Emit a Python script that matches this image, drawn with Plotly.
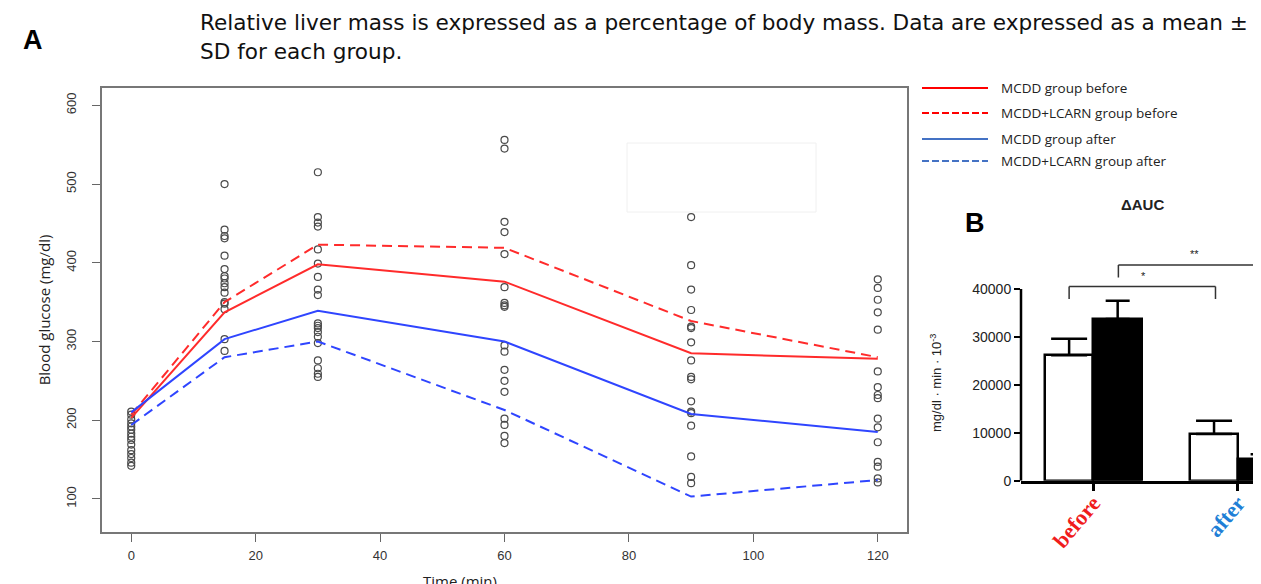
import plotly.graph_objects as go

# ---------------- data: panel A ----------------
time_min = [0, 15, 30, 60, 90, 120]
mcdd_before = [203, 337, 398, 376, 285, 278]
lcarn_before = [207, 350, 423, 419, 326, 280]
mcdd_after = [210, 303, 339, 300, 208, 185]
lcarn_after = [194, 280, 300, 213, 103, 124]

obs_t0 = [211, 207, 201, 196, 192, 188, 183, 179, 175, 169, 162, 157, 152, 146, 142]
obs_t15 = [500, 442, 434, 431, 409, 392, 383, 380, 374, 369, 362, 350, 348, 341, 303, 288]
obs_t30 = [515, 458, 451, 446, 417, 399, 382, 366, 359, 323, 320, 317, 312, 306, 298, 276, 266, 259, 255]
obs_t60 = [556, 545, 452, 439, 411, 369, 349, 346, 344, 295, 287, 264, 250, 236, 202, 194, 180, 171]
obs_t90 = [458, 397, 366, 340, 319, 317, 299, 276, 255, 252, 224, 211, 209, 193, 154, 128, 120]
obs_t120 = [379, 368, 353, 337, 315, 262, 242, 232, 228, 202, 191, 172, 147, 141, 126, 121]
obs_all = [obs_t0, obs_t15, obs_t30, obs_t60, obs_t90, obs_t120]

y_ticks_a = [100, 200, 300, 400, 500, 600]
x_ticks_a = [0, 20, 40, 60, 80, 100, 120]

legend_labels = ["MCDD group before", "MCDD+LCARN group before",
                 "MCDD group after", "MCDD+LCARN group after"]

# ---------------- data: panel B ----------------
auc_groups = [0, 1]
auc_labels = ["before", "after"]
auc_mcdd = [26200, 9750]
auc_mcdd_sd = [3400, 2780]
auc_lcarn = [33750, 4470]
auc_lcarn_sd = [3800, 1050]
y_ticks_b = [0, 10000, 20000, 30000, 40000]

W, H = 1261, 584
OFF = 8  # page body margin
FW, FH = W - OFF, H - OFF
def px(x):
    return (x - OFF) / FW
def py(y):
    return 1 - (y - OFF) / FH

RED = "#ff2b2b"
BLUE = "#2f45ff"
fig = go.Figure()

# scatter of individual observations
sx, sy = [], []
for t, vals in zip(time_min, obs_all):
    sx += [t] * len(vals)
    sy += vals
fig.add_trace(go.Scatter(x=sx, y=sy, mode="markers", showlegend=False,
                         marker=dict(symbol="circle-open", size=7, color="#4a4a4a",
                                     line=dict(width=1.2, color="#4a4a4a")),
                         xaxis="x", yaxis="y"))

series = [(mcdd_before, RED, "solid"), (lcarn_before, RED, "10px,6px"),
          (mcdd_after, BLUE, "solid"), (lcarn_after, BLUE, "10px,6px")]
for vals, col, dash in series:
    fig.add_trace(go.Scatter(x=time_min, y=vals, mode="lines", showlegend=False,
                             line=dict(color=col, width=2, dash=dash),
                             xaxis="x", yaxis="y"))

# panel B bars
fig.add_trace(go.Bar(x=auc_groups, y=auc_mcdd, width=0.33, offset=-0.33,
                     marker=dict(color="white", line=dict(color="black", width=2.5)),
                     error_y=dict(type="data", array=auc_mcdd_sd, arrayminus=[0, 0],
                                  symmetric=False, color="black", thickness=2.5, width=18),
                     showlegend=False, xaxis="x2", yaxis="y2"))
fig.add_trace(go.Bar(x=auc_groups, y=auc_lcarn, width=0.34, offset=0,
                     marker=dict(color="black", line=dict(color="black", width=2.5)),
                     error_y=dict(type="data", array=auc_lcarn_sd, arrayminus=[0, 0],
                                  symmetric=False, color="black", thickness=2.5, width=12),
                     showlegend=False, xaxis="x2", yaxis="y2"))

axis_font = dict(family="Liberation Sans, Arial", size=13, color="#333")
fig.update_layout(
    width=FW, height=FH, margin=dict(l=0, r=0, t=0, b=0, autoexpand=False),
    paper_bgcolor="white", plot_bgcolor="white",
    xaxis=dict(domain=[px(102), px(907)], range=[-4.7, 124.7], tickvals=x_ticks_a,
               automargin=False,
               ticks="outside", ticklen=8, tickwidth=1.2, tickcolor="#666",
               ticklabelstandoff=3,
               showline=True, mirror=True, linecolor="#777", linewidth=1.5,
               showgrid=False, zeroline=False, tickfont=axis_font,
               anchor="y"),
    yaxis=dict(domain=[py(532), py(88)], range=[58, 622], tickvals=y_ticks_a,
               automargin=False,
               tickangle=-90, ticks="outside", ticklen=8, tickwidth=1.2, tickcolor="#666",
               ticklabelstandoff=11,
               showline=True, mirror=True, linecolor="#777", linewidth=1.5,
               showgrid=False, zeroline=False, tickfont=axis_font,
               title=dict(text="Blood glucose (mg/dl)", standoff=10,
                          font=dict(family="Open Sans", size=15, color="#222")),
               anchor="x"),
    xaxis2=dict(domain=[px(1021), 1], range=[-0.497, 1.159], tickmode="array",
                automargin=False,
                tickvals=auc_groups,
                ticktext=['<b><span style="color:#f01c1c">before</span></b>',
                          '<b><span style="color:#1f7fd6">after</span></b>'],
                tickangle=-50, ticks="outside", ticklen=8, tickwidth=2.5, tickcolor="black",
                ticklabelstandoff=-10,
                showline=True, linecolor="black", linewidth=2.5,
                showgrid=False, zeroline=False,
                tickfont=dict(family="Liberation Serif, Times New Roman", size=22, color="black"),
                anchor="y2"),
    yaxis2=dict(domain=[py(480.7), py(240)], range=[0, 50224], tickvals=y_ticks_b,
                automargin=False, tickformat="d",
                ticks="outside", ticklen=6, tickwidth=2, tickcolor="black",
                showline=False, showgrid=False, zeroline=False,
                tickfont=dict(family="Liberation Sans, Arial", size=14, color="#222"),
                anchor="x2"),
    bargap=0,
)

# y axis line of panel B (0 -> 40000)
fig.add_shape(type="line", xref="x2 domain", yref="y2", x0=0, x1=0, y0=0, y1=y_ticks_b[-1],
              line=dict(color="black", width=2.5))

# significance brackets
def bracket(xl, xr, ytop, yleg):
    for (a, b, c, d) in [(xl, yleg, xl, ytop), (xl, ytop, xr, ytop), (xr, ytop, xr, yleg)]:
        fig.add_shape(type="line", xref="x2", yref="y2", x0=a, y0=b, x1=c, y1=d,
                      line=dict(color="#333", width=1.5))

bracket(auc_groups[0] - 0.165, auc_groups[1] - 0.155, 40500, 37900)
bracket(auc_groups[0] + 0.175, auc_groups[1] + 0.17, 45000, 42400)

def note(x, y, text, size, family="Liberation Sans, Arial", color="#222", xref="paper",
         yref="paper", xanchor="center", angle=0):
    fig.add_annotation(x=x, y=y, xref=xref, yref=yref, text=text, showarrow=False,
                       xanchor=xanchor, yanchor="middle", textangle=angle,
                       font=dict(family=family, size=size, color=color))

note(0.345, 42700, "*", 11, xref="x2", yref="y2")
note(0.697, 47300, "**", 11, xref="x2", yref="y2")

# x title of panel A (cut by the bottom edge as in the original)
note(px(460), py(581), "Time (min)", 15, family="Open Sans")

# panel B y title, title, label
note(px(936), py(383), "mg/dl · min · 10<sup>-3</sup>", 13, angle=-90)
note(px(1142), py(204), "<b>ΔAUC</b>", 15)
note(px(975), py(223), "<b>B</b>", 27, color="black")
note(px(33), py(40), "<b>A</b>", 27, color="black")

# header text
note(px(198), py(22),
     "Relative liver mass is expressed as a percentage of body mass. Data are expressed as a mean ±",
     21.6, family="DejaVu Sans", color="#111", xanchor="left")
note(px(198), py(52), "SD for each group.", 21.6, family="DejaVu Sans", color="#111", xanchor="left")

# custom legend
leg_y = [88, 113, 139, 161]
leg_cols = ["#ff0000", "#ff0000", "#4472c4", "#4472c4"]
leg_dash = ["solid", "7px,3px", "solid", "7px,3px"]
for lab, yy, col, dash in zip(legend_labels, leg_y, leg_cols, leg_dash):
    fig.add_shape(type="line", xref="paper", yref="paper", x0=px(922), x1=px(988),
                  y0=py(yy), y1=py(yy), line=dict(color=col, width=2, dash=dash))
    note(px(999), py(yy), lab, 13.5, family="Open Sans", xanchor="left")

# faint box artifact
fig.add_shape(type="rect", xref="paper", yref="paper", x0=px(627), x1=px(816),
              y0=py(212), y1=py(143), line=dict(color="#f0f0f0", width=1))

fig.write_html("out.html")
